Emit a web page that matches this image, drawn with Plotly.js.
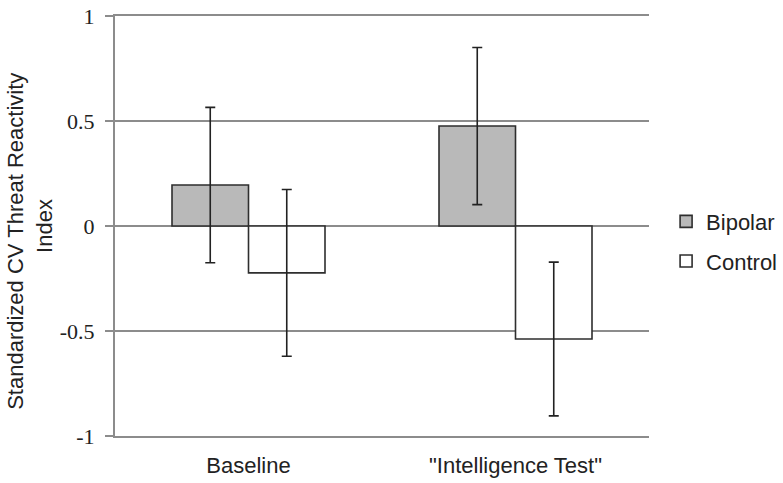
<!DOCTYPE html>
<html>
<head>
<meta charset="utf-8">
<script src="https://cdn.plot.ly/plotly-3.0.1.min.js"></script>
<style>html,body{margin:0;padding:0;background:#fff;}#chart{width:783px;height:483px;}</style>
</head>
<body>
<div id="chart"></div>
<script>
var categories = ['Baseline', '"Intelligence Test"'];
var bipolarValues = [0.195, 0.476];
var bipolarErrors = [0.37, 0.374];
var controlValues = [-0.223, -0.538];
var controlErrors = [0.397, 0.366];
var yTickValues = [-1, -0.5, 0, 0.5, 1];
var yTickLabels = ['-1', '-0.5', '0', '0.5', '1'];
var categoryBoundaries = [-0.5, 0.5, 1.5];

var sans = '"Liberation Sans", Arial, sans-serif';
var serif = '"Liberation Serif", "DejaVu Serif", serif';
var nb = '\u00a0\u00a0\u00a0\u00a0\u00a0';

var traces = [
  {
    type: 'bar', name: 'Bipolar', x: categories, y: bipolarValues,
    marker: {color: '#b9b9b9', line: {color: '#2e2e2e', width: 1.6}},
    error_y: {type: 'data', array: bipolarErrors, visible: true, color: '#222', thickness: 1.6, width: 5},
    legendgroup: 'a'
  },
  {
    type: 'bar', name: 'Control', x: categories, y: controlValues,
    marker: {color: '#ffffff', line: {color: '#2e2e2e', width: 1.6}},
    error_y: {type: 'data', array: controlErrors, visible: true, color: '#222', thickness: 1.6, width: 5},
    legendgroup: 'b'
  }
];

var layout = {
  width: 783, height: 483,
  margin: {l: 115, r: 134, t: 16, b: 47, autoexpand: false},
  paper_bgcolor: '#fff', plot_bgcolor: '#fff',
  barmode: 'group', bargap: 0.427, bargroupgap: 0,
  showlegend: true,
  legend: {x: 1.032, y: 0.463, xanchor: 'left', yanchor: 'middle', font: {family: sans, size: 22, color: '#222'}, tracegroupgap: 8, bgcolor: 'rgba(0,0,0,0)'},
  xaxis: {
    type: 'category', showgrid: false, zeroline: false,
    showline: true, mirror: true, linecolor: '#8c8c8c', linewidth: 2, ticks: '',
    tickfont: {family: sans, size: 22, color: '#222'}, ticklabelstandoff: 9
  },
  xaxis2: {
    overlaying: 'x', anchor: 'free', position: 0.5, range: [-0.5, 1.5], type: 'linear',
    showline: true, linecolor: '#8c8c8c', linewidth: 2, showgrid: false, zeroline: false,
    ticks: 'outside', ticklen: 6, tickwidth: 2, tickcolor: '#8c8c8c',
    tickvals: categoryBoundaries, showticklabels: false
  },
  yaxis: {
    range: [-1, 1], tickvals: yTickValues, ticktext: yTickLabels,
    showgrid: true, gridcolor: '#8c8c8c', gridwidth: 2, zeroline: false,
    showline: true, linecolor: '#8c8c8c', linewidth: 2,
    ticks: 'outside', ticklen: 8, tickwidth: 2, tickcolor: '#8c8c8c',
    tickfont: {family: serif, size: 22, color: '#222'}, ticklabelstandoff: 6,
    title: {text: 'Standardized CV Threat Reactivity' + nb + '<br>Index' + nb, font: {family: sans, size: 22, color: '#222'}, standoff: 1}
  }
};

Plotly.newPlot('chart', traces, layout, {displayModeBar: false, staticPlot: true});
</script>
</body>
</html>
